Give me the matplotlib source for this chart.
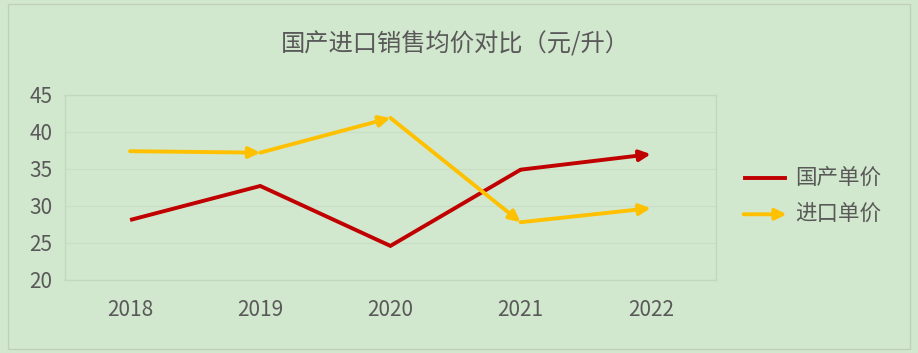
import matplotlib.pyplot as plt
from matplotlib.patches import Rectangle

plt.rcParams['font.family'] = ['Noto Sans CJK SC', 'DejaVu Sans']

years = ["2018", "2019", "2020", "2021", "2022"]
guochan = [28.1, 32.7, 24.6, 34.9, 37.0]
jinkou = [37.4, 37.2, 41.9, 27.8, 29.7]

bg = "#d2e8ce"
txt = "#595959"
red = "#c00000"
yel = "#ffc000"
lw = 2.8
arrow = "-|>,head_length=0.65,head_width=0.32"

fig = plt.figure(figsize=(9.18, 3.53), dpi=100, facecolor=bg)
fig.add_artist(Rectangle((0.009, 0.012), 0.982, 0.976, transform=fig.transFigure,
                         fill=False, edgecolor="#bfcfbb", linewidth=1))
ax = fig.add_axes([0.0708, 0.207, 0.709, 0.524], facecolor=bg)

x = list(range(len(years)))
ax.plot(x[:-1], guochan[:-1], color=red, linewidth=lw, solid_capstyle="butt", solid_joinstyle="miter")
ax.annotate("", xy=(x[-1], guochan[-1]), xytext=(x[-2], guochan[-2]),
            arrowprops=dict(arrowstyle=arrow, color=red, lw=lw, shrinkA=0, shrinkB=0))

# yellow line: arrow at every point
for i in range(len(x) - 1):
    ax.annotate("", xy=(x[i + 1], jinkou[i + 1]), xytext=(x[i], jinkou[i]),
                arrowprops=dict(arrowstyle=arrow, color=yel, lw=lw, shrinkA=0, shrinkB=0))

ax.set_xlim(-0.5, 4.5)
ax.set_ylim(20, 45)
ax.set_xticks(x)
ax.set_xticklabels(years)
ax.set_yticks([20, 25, 30, 35, 40, 45])
ax.tick_params(length=0, labelsize=15, labelcolor=txt)
ax.tick_params(axis="x", pad=14)
ax.tick_params(axis="y", pad=9)
ax.grid(axis="y", color="#c9dec5", linewidth=0.8)
ax.set_axisbelow(True)
for s in ax.spines.values():
    s.set_color("#c3d6bf")
    s.set_linewidth(1)

fig.text(0.496, 0.873, "国产进口销售均价对比（元/升）", ha="center", va="center", fontsize=17.5, color=txt)

# legend
fig.add_artist(plt.Line2D([0.812, 0.855], [0.495, 0.495], transform=fig.transFigure,
                          color=red, linewidth=lw))
fig.text(0.866, 0.495, "国产单价", ha="left", va="center", fontsize=15.5, color=txt)
ax.annotate("", xy=(0.857, 0.393), xytext=(0.81, 0.393), xycoords="figure fraction",
            textcoords="figure fraction",
            arrowprops=dict(arrowstyle=arrow, color=yel, lw=lw, shrinkA=0, shrinkB=0))
fig.text(0.866, 0.393, "进口单价", ha="left", va="center", fontsize=15.5, color=txt)

fig.savefig("out.png", dpi=100, facecolor=bg)
